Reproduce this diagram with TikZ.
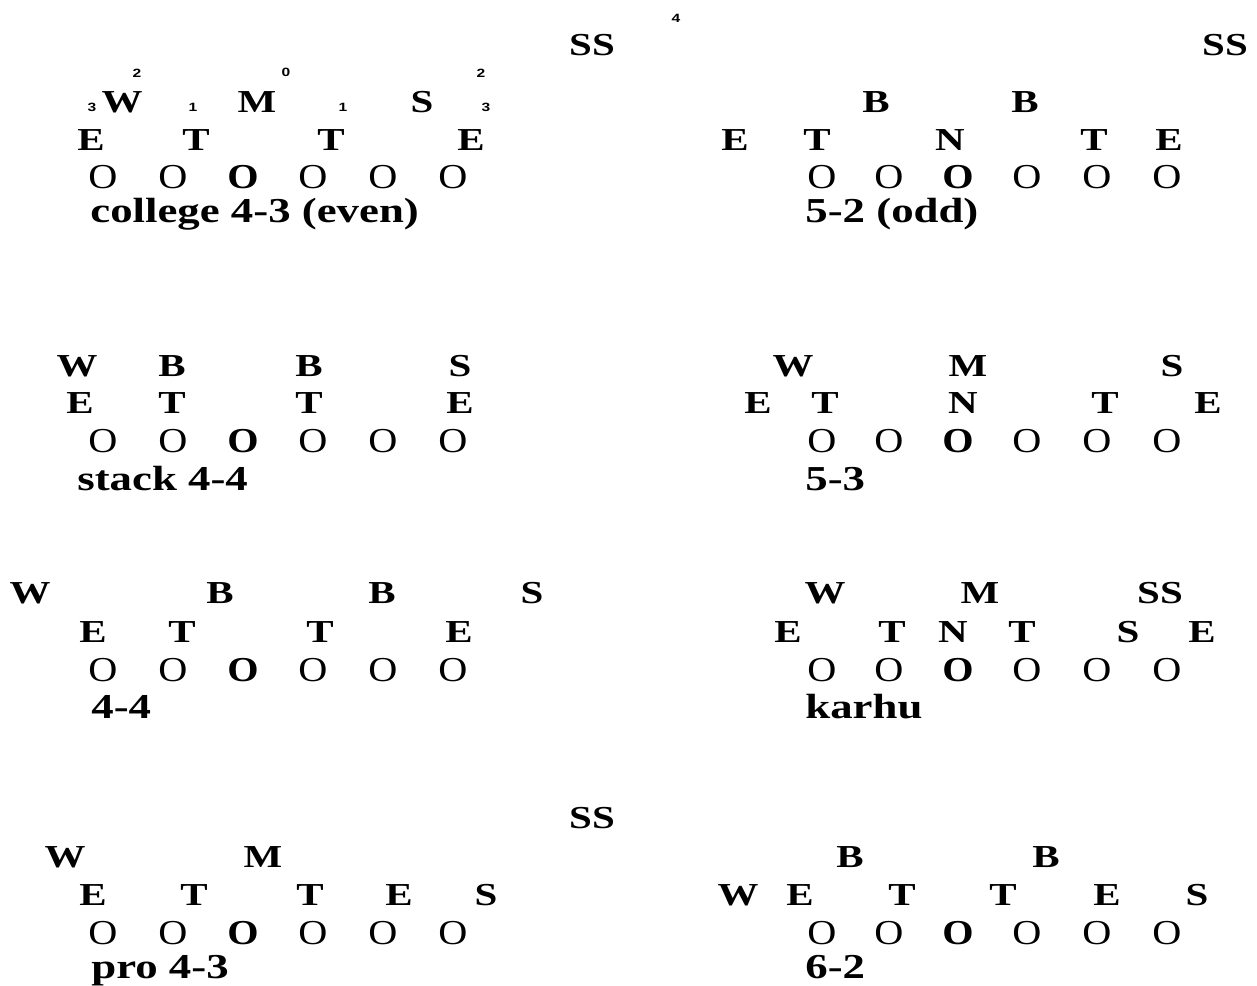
\documentclass[tikz,border=0pt]{standalone}
\usepackage{fontspec}
\setmainfont{Liberation Serif}[FakeStretch=1.28]
\newfontfamily\linefont{Liberation Serif}[FakeStretch=1.15]
\newfontfamily\gapfont{Liberation Sans}[FakeStretch=1.3]
\usetikzlibrary{positioning}

\tikzset{
  defman/.style={font=\fontsize{16}{18}\selectfont\bfseries, inner sep=0pt},
  lineman/.style={font=\linefont\fontsize{17.5}{19}\selectfont, inner sep=0pt},
  gapnum/.style={font=\gapfont\fontsize{6}{7}\selectfont\bfseries, inner sep=0pt},
  setname/.style={font=\fontsize{17.5}{19}\selectfont\bfseries, anchor=base west, inner sep=0pt}
}

% offensive line: name, y, x positions (third one is the center)
\newcommand{\oline}[3]{%
  \foreach \x [count=\i] in {#3}
    \node[lineman] (#1-o\i) at (\x,#2) {\ifnum\i=3 \bfseries\fi O};
}

\begin{document}
\begin{tikzpicture}[x=0.5pt,y=-0.5pt]
\useasboundingbox (0,0) rectangle (1257,985);

% college 4-3 (even)
\node[defman] (d1-ss) at (592,45) {SS};
\node[gapnum] (d1-g4) at (676,18) {4};
\foreach \x/\y/\t [count=\i] in {92/107/3,137/73/2,193/107/1,286/72/0,343/107/1,481/73/2,486/107/3}
  \node[gapnum] (d1-g\i) at (\x,\y) {\t};
\foreach \x/\t [count=\i] in {122/W,257/M,422/S}
  \node[defman] (d1-b\i) at (\x,102) {\t};
\foreach \x/\t [count=\i] in {91/E,196/T,331/T,471/E}
  \node[defman] (d1-l\i) at (\x,140) {\t};
\oline{d1}{177}{103,173,243,313,383,453}
\node[setname] (d1-name) at (90,222) {college 4-3 (even)};

% 5-2 (odd)
\node[defman] (d2-ss) at (1225,45) {SS};
\foreach \x/\t [count=\i] in {876/B,1025/B}
  \node[defman] (d2-b\i) at (\x,102) {\t};
\foreach \x/\t [count=\i] in {735/E,817/T,950/N,1094/T,1169/E}
  \node[defman] (d2-l\i) at (\x,140) {\t};
\oline{d2}{177}{822,889,958,1027,1097,1167}
\node[setname] (d2-name) at (805,222) {5-2 (odd)};

% stack 4-4
\foreach \x/\t [count=\i] in {77/W,172/B,309/B,460/S}
  \node[defman] (d3-b\i) at (\x,366) {\t};
\foreach \x/\t [count=\i] in {80/E,172/T,309/T,460/E}
  \node[defman] (d3-l\i) at (\x,403) {\t};
\oline{d3}{441}{103,173,243,313,383,453}
\node[setname] (d3-name) at (77,490) {stack 4-4};

% 5-3
\foreach \x/\t [count=\i] in {793/W,968/M,1172/S}
  \node[defman] (d4-b\i) at (\x,366) {\t};
\foreach \x/\t [count=\i] in {758/E,825/T,963/N,1105/T,1208/E}
  \node[defman] (d4-l\i) at (\x,403) {\t};
\oline{d4}{441}{822,889,958,1027,1097,1167}
\node[setname] (d4-name) at (805,490) {5-3};

% 4-4
\foreach \x/\t [count=\i] in {30/W,220/B,382/B,532/S}
  \node[defman] (d5-b\i) at (\x,593) {\t};
\foreach \x/\t [count=\i] in {93/E,182/T,320/T,459/E}
  \node[defman] (d5-l\i) at (\x,632) {\t};
\oline{d5}{670}{103,173,243,313,383,453}
\node[setname] (d5-name) at (91,718) {4-4};

% karhu
\foreach \x/\t [count=\i] in {825/W,980/M,1160/SS}
  \node[defman] (d6-b\i) at (\x,593) {\t};
\foreach \x/\t [count=\i] in {788/E,892/T,953/N,1022/T,1128/S,1202/E}
  \node[defman] (d6-l\i) at (\x,632) {\t};
\oline{d6}{670}{822,889,958,1027,1097,1167}
\node[setname] (d6-name) at (805,718) {karhu};

% pro 4-3
\node[defman] (d7-ss) at (592,818) {SS};
\foreach \x/\t [count=\i] in {65/W,263/M}
  \node[defman] (d7-b\i) at (\x,857) {\t};
\foreach \x/\t [count=\i] in {93/E,194/T,310/T,399/E,486/S}
  \node[defman] (d7-l\i) at (\x,895) {\t};
\oline{d7}{933}{103,173,243,313,383,453}
\node[setname] (d7-name) at (91,978) {pro 4-3};

% 6-2
\foreach \x/\t [count=\i] in {850/B,1046/B}
  \node[defman] (d8-b\i) at (\x,857) {\t};
\foreach \x/\t [count=\i] in {738/W,800/E,902/T,1003/T,1107/E,1197/S}
  \node[defman] (d8-l\i) at (\x,895) {\t};
\oline{d8}{933}{822,889,958,1027,1097,1167}
\node[setname] (d8-name) at (805,978) {6-2};
\end{tikzpicture}
\end{document}
